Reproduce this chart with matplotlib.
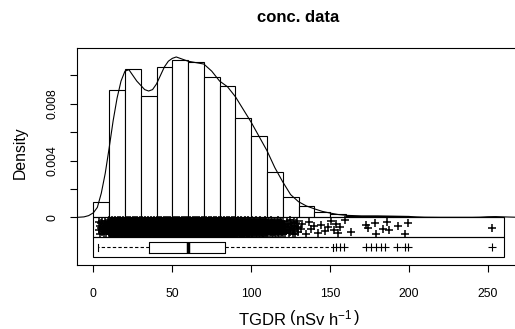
import numpy as np
import matplotlib
matplotlib.use("Agg")
import matplotlib.pyplot as plt
from matplotlib.patches import Rectangle

plt.rcParams['font.family'] = ['Liberation Sans', 'DejaVu Sans']
plt.rcParams['mathtext.fontset'] = 'custom'
plt.rcParams['mathtext.rm'] = 'Liberation Sans'
plt.rcParams['mathtext.it'] = 'Liberation Sans:italic'

# histogram, bins of 10 from 0 to 260 (density scale)
bin_edges = np.arange(0, 270, 10)
hist_density = [0.00110, 0.00900, 0.01042, 0.00857, 0.01061, 0.01106, 0.01096,
                0.00991, 0.00925, 0.00702, 0.00570, 0.00319, 0.00141, 0.00082,
                0.00040, 0.00024, 0.00010, 0.00012, 0.00012, 0.00008, 0.0,
                0.0, 0.0, 0.0, 0.0, 0.00005]

# kernel density curve
kde_x = [-10, -6, -3, 0, 2.5, 5, 7.5, 10, 12.5, 15, 17.5, 20, 22.5, 25, 27.5,
         30, 32.5, 35, 37.5, 40, 42.5, 45, 47.5, 50, 52.5, 55, 57.5, 60, 65,
         70, 75, 80, 85, 90, 95, 100, 105, 110, 115, 120, 125, 130, 135, 140,
         145, 150, 155, 160, 170, 180, 190, 200, 205, 210, 220, 240, 245, 250,
         255, 260, 270]
kde_y = [0.0, 0.00003, 0.00012, 0.00032, 0.0007, 0.0017, 0.0031, 0.0049,
         0.0068, 0.0084, 0.0096, 0.0103, 0.0104, 0.0100, 0.0096, 0.0093,
         0.0090, 0.0089, 0.0090, 0.0094, 0.0100, 0.0106, 0.0110, 0.0112,
         0.0113, 0.0112, 0.0111, 0.0110, 0.0109, 0.0108, 0.0103, 0.0096,
         0.0092, 0.0085, 0.0076, 0.0067, 0.0057, 0.0047, 0.0035, 0.0025,
         0.0016, 0.0011, 0.0008, 0.0006, 0.00042, 0.0003, 0.0002, 0.00014,
         0.0001, 0.0001, 0.00008, 0.00006, 0.00003, 0.00001, 0.0, 0.0,
         0.00001, 0.00004, 0.00005, 0.00003, 0.0]

# strip chart: counts of points per 10-wide bin (dense part), then single points
data_min = 3.2
strip_counts = [22, 180, 208, 171, 212, 221, 219, 198, 185, 140, 114, 64, 28]
strip_tail = [131.7, 132.5, 134.9, 136.5, 138.0, 140.1, 142.2, 144.4, 146.5,
              148.6, 150.7, 152.8, 153.9, 154.9, 156.0, 159.2, 163.4, 173.0,
              174.0, 178.2, 179.3, 183.5, 186.0, 187.3, 193.0, 197.2, 199.3,
              252.8]
jitter_frac = [0.12, 0.71, 0.38, 0.93, 0.22, 0.57, 0.04, 0.84, 0.46, 0.65,
               0.29, 0.98, 0.16, 0.61, 0.42, 0.88, 0.33, 0.76, 0.51, 0.08,
               0.69, 0.26, 0.90, 0.48, 0.01, 0.79, 0.35, 0.55, 0.19, 0.96,
               0.63]

# boxplot summary
box_q1, box_med, box_q3 = 35.5, 59.8, 83.5
whisk_lo, whisk_hi = 3.2, 152.0
outliers = [154, 156.5, 159, 173, 176, 179, 182, 185, 192.5, 197.5, 199.5, 252.5]

fig = plt.figure(figsize=(5.15, 3.29), dpi=100)
ax = fig.add_axes([77/515, 64/329, 443/515, 216.7/329])

band = 0.00141

# histogram
ax.bar(bin_edges[:-1], hist_density, width=10, align='edge',
       facecolor='white', edgecolor='black', linewidth=0.8, zorder=2)

# density line
ax.plot(kde_x, kde_y, color='black', linewidth=0.8, zorder=3)

# strip chart
vals = []
for i, n in enumerate(strip_counts):
	lo = max(bin_edges[i], data_min)
	hi = bin_edges[i+1]
	vals.extend(np.linspace(lo, hi, n, endpoint=False) + (hi - lo) / n / 2)
vals.extend(strip_tail)
vals = np.array(vals)
jit = np.array([jitter_frac[k % len(jitter_frac)] for k in range(len(vals))])
ys = -band * (0.14 + 0.72 * jit)
ax.plot(vals, ys, linestyle='none', marker='+', color='black',
        markersize=5.5, markeredgewidth=1.1, zorder=3)

# frames for strip and boxplot
ax.add_patch(Rectangle((bin_edges[0], -band), bin_edges[-1] - bin_edges[0], band,
                       fill=False, edgecolor='black', linewidth=0.8, zorder=4))
ax.add_patch(Rectangle((bin_edges[0], -2*band), bin_edges[-1] - bin_edges[0], band,
                       fill=False, edgecolor='black', linewidth=0.8, zorder=4))

# boxplot
stats = [dict(med=box_med, q1=box_q1, q3=box_q3, whislo=whisk_lo,
              whishi=whisk_hi, fliers=outliers)]
box_h = 0.00082
ax.bxp(stats, positions=[-1.5*band], widths=box_h, orientation='horizontal',
       manage_ticks=False, capwidths=box_h*0.55,
       boxprops=dict(color='black', linewidth=0.8),
       whiskerprops=dict(color='black', linewidth=0.8, linestyle=(0, (3, 2))),
       capprops=dict(color='black', linewidth=0.8),
       medianprops=dict(color='black', linewidth=2.5),
       flierprops=dict(marker='+', markeredgecolor='black', markersize=5.5,
                       markeredgewidth=0.8))

ax.set_xlim(-10.4, 270.4)
ax.set_ylim(-0.00336, 0.01191)
ax.set_xticks([0, 50, 100, 150, 200, 250])
ax.set_yticks([0, 0.002, 0.004, 0.006, 0.008, 0.010])
ax.set_yticklabels(['0', '', '0.004', '', '0.008', ''], rotation=90, va='center')
ax.tick_params(axis='both', length=5, width=0.8, labelsize=8.7, direction='out')
ax.tick_params(axis='x', pad=11.5)
ax.tick_params(axis='y', pad=8)
for s in ax.spines.values():
	s.set_linewidth(0.8)

ax.set_xlabel(r'TGDR $\left(\mathrm{nSv\ h}^{-1}\,\right)$', fontsize=12, va='center')
ax.xaxis.set_label_coords(0.501, -0.249)
ax.set_ylabel('Density', fontsize=11.3, va='center')
ax.yaxis.set_label_coords(-0.1287, 0.519)
fig.text(298/515, 1 - 17/329, 'conc. data', ha='center', va='center',
         fontsize=12, fontweight='bold')

fig.savefig('out.png', dpi=100)
